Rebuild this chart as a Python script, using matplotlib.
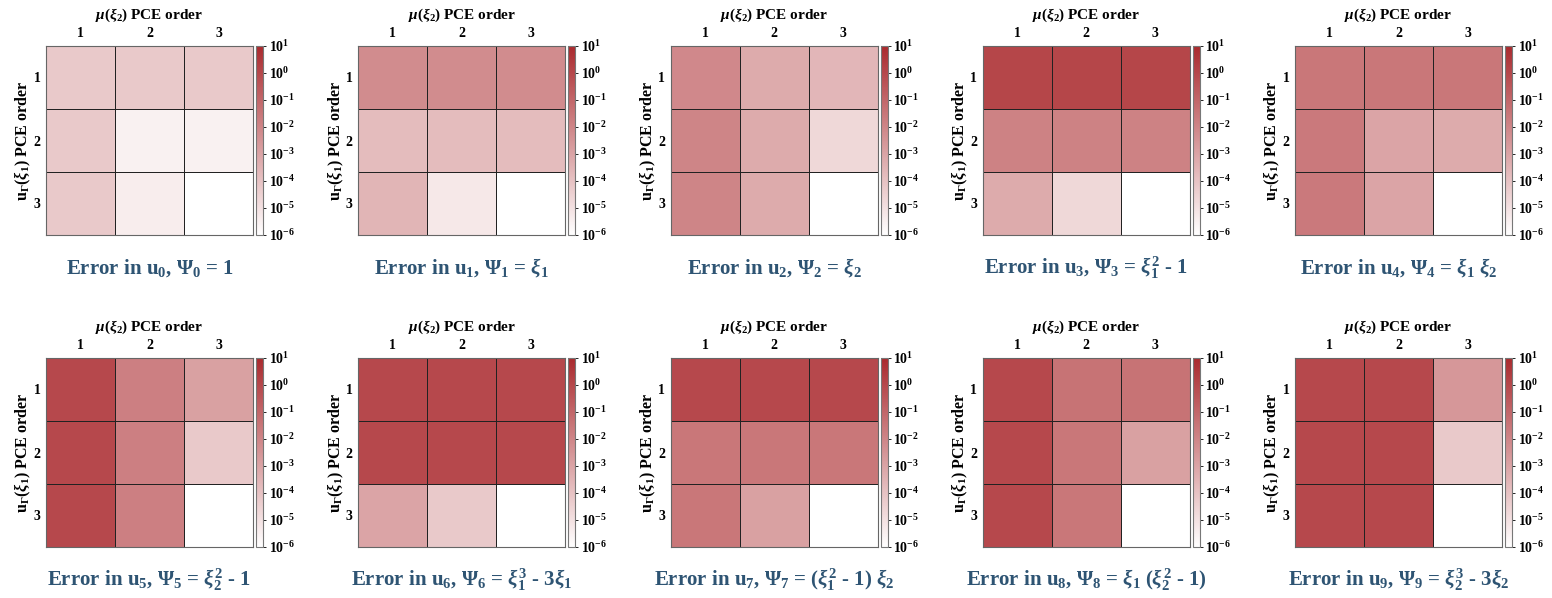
import numpy as np
import matplotlib
matplotlib.use('Agg')
import matplotlib.pyplot as plt
from matplotlib.colors import LogNorm, LinearSegmentedColormap

plt.rcParams.update({
    'font.family': 'Liberation Serif',
    'font.weight': 'bold',
    'axes.labelweight': 'bold',
    'mathtext.fontset': 'custom',
    'mathtext.rm': 'Liberation Serif:bold',
    'mathtext.it': 'Liberation Serif:italic:bold',
    'mathtext.bf': 'Liberation Serif:bold',
})

orders = ['1', '2', '3']

# error values, rows = u_Gamma(xi_1) order, cols = mu(xi_2) order
err_u0 = [[6e-5, 6e-5, 6e-5], [6e-5, 3e-6, 3e-6], [6e-5, 4e-6, 1e-6]]
err_u1 = [[6e-3, 6e-3, 6e-3], [1.6e-4, 1.6e-4, 1.6e-4], [2.8e-4, 6e-6, 1e-6]]
err_u2 = [[8e-3, 6e-4, 2.5e-4], [1e-2, 6e-4, 2e-5], [1e-2, 6e-4, 1e-6]]
err_u3 = [[1.2, 1.2, 1.2], [1.3e-2, 1.3e-2, 1.3e-2], [6e-4, 2e-5, 1e-6]]
err_u4 = [[3e-2, 3e-2, 3e-2], [2.5e-2, 1e-3, 6e-4], [2.5e-2, 1e-3, 1e-6]]
err_u5 = [[1.0, 1.6e-2, 1.3e-3], [1.0, 1.6e-2, 6e-5], [1.0, 1.6e-2, 1e-6]]
err_u6 = [[1.0, 1.0, 1.0], [1.0, 1.0, 1.0], [1e-3, 6e-5, 1e-6]]
err_u7 = [[1.0, 1.0, 1.0], [3e-2, 3e-2, 3e-2], [3e-2, 1.3e-3, 1e-6]]
err_u8 = [[1.0, 4e-2, 4e-2], [1.0, 3e-2, 1.3e-3], [1.0, 3e-2, 1e-6]]
err_u9 = [[1.0, 1.0, 2.5e-3], [1.0, 1.0, 6e-5], [1.0, 1.0, 1e-6]]

titles = [
    r'Error in u$_0$, $\Psi_0$ = 1',
    r'Error in u$_1$, $\Psi_1$ = $\xi_1$',
    r'Error in u$_2$, $\Psi_2$ = $\xi_2$',
    r'Error in u$_3$, $\Psi_3$ = $\xi_1^2$ - 1',
    r'Error in u$_4$, $\Psi_4$ = $\xi_1$ $\xi_2$',
    r'Error in u$_5$, $\Psi_5$ = $\xi_2^2$ - 1',
    r'Error in u$_6$, $\Psi_6$ = $\xi_1^3$ - 3$\xi_1$',
    r'Error in u$_7$, $\Psi_7$ = ($\xi_1^2$ - 1) $\xi_2$',
    r'Error in u$_8$, $\Psi_8$ = $\xi_1$ ($\xi_2^2$ - 1)',
    r'Error in u$_9$, $\Psi_9$ = $\xi_2^3$ - 3$\xi_2$',
]
errors = [err_u0, err_u1, err_u2, err_u3, err_u4,
          err_u5, err_u6, err_u7, err_u8, err_u9]

cmap = LinearSegmentedColormap.from_list('wr', ['#ffffff', '#aa2a2e'])
norm = LogNorm(vmin=1e-6, vmax=1e1)

W, H = 1552, 598
fig = plt.figure(figsize=(W / 100, H / 100), dpi=100)

title_color = '#2e5473'
for i, (err, ttl) in enumerate(zip(errors, titles)):
    r, c = divmod(i, 5)
    left = 46 + 312.25 * c
    top = 46 if r == 0 else 358
    ax = fig.add_axes([left / W, (H - top - 189) / H, 207 / W, 189 / H])
    cax = fig.add_axes([(left + 210) / W, (H - top - 189) / H, 7 / W, 189 / H])

    data = np.array(err)
    mesh = ax.pcolormesh(np.arange(4), np.arange(4), data, cmap=cmap, norm=norm,
                         edgecolor='#222222', linewidth=0.5)
    ax.set_xlim(0, 3)
    ax.set_ylim(3, 0)
    ax.set_xticks([0.5, 1.5, 2.5])
    ax.set_xticklabels(orders)
    ax.set_yticks([0.5, 1.5, 2.5])
    ax.set_yticklabels(orders)
    ax.xaxis.tick_top()
    ax.xaxis.set_label_position('top')
    ax.tick_params(length=0, labelsize=10, pad=4)
    ax.set_xlabel(r'$\mu$($\xi_2$) PCE order', fontsize=11, labelpad=6)
    ax.set_ylabel(r'u$_\Gamma$($\xi_1$) PCE order', fontsize=11.5, labelpad=0)
    for s in ax.spines.values():
        s.set_color('#666666')
        s.set_linewidth(0.8)

    cb = fig.colorbar(mesh, cax=cax)
    cb.set_ticks([10.0 ** k for k in range(-6, 2)])
    cb.ax.minorticks_off()
    cb.ax.tick_params(labelsize=10, length=2, width=0.6, pad=2)
    cb.outline.set_edgecolor('#777777')
    cb.outline.set_linewidth(0.8)

    ax.text(0.5, -33 / 189, ttl, transform=ax.transAxes, ha='center', va='center',
            fontsize=15, color=title_color)

fig.savefig('out.png', dpi=100)
